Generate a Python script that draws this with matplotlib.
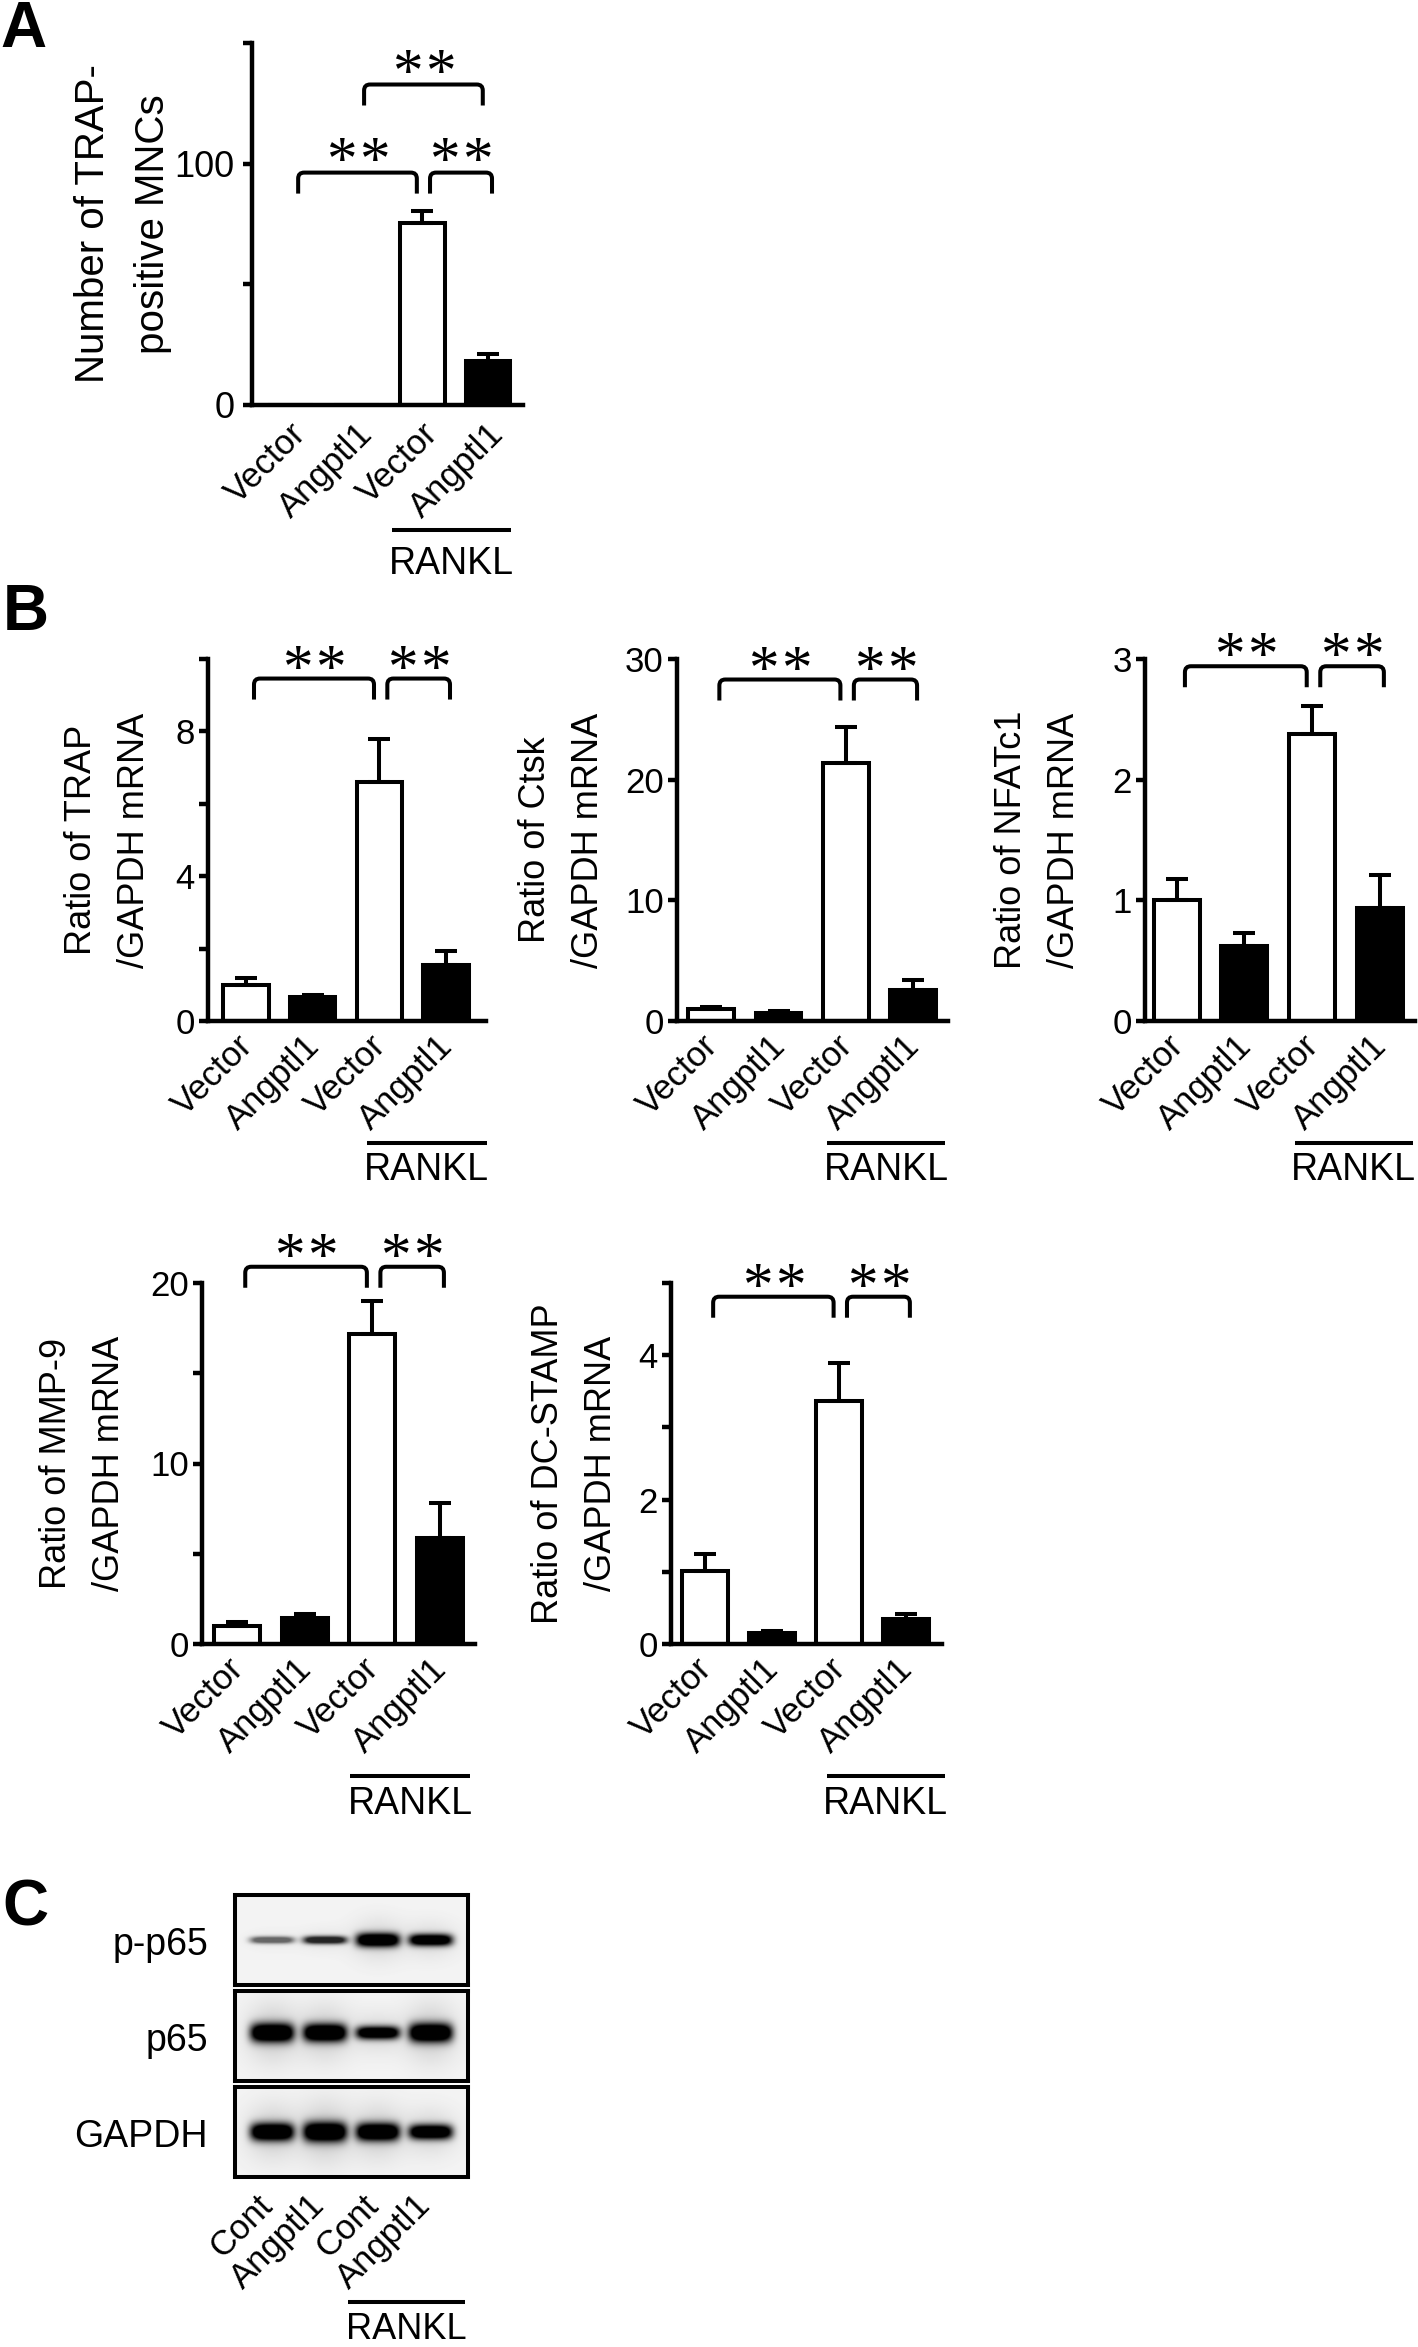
import numpy as np
import matplotlib
matplotlib.use("Agg")
import matplotlib.pyplot as plt
from matplotlib.path import Path
from matplotlib.patches import PathPatch
from matplotlib.transforms import blended_transform_factory, ScaledTranslation

# ==========================================
# DATA
# ==========================================
groups = ["Vector", "Angptl1", "Vector", "Angptl1"]
bar_colors = ["white", "black", "white", "black"]
treatment = "RANKL"

# A: number of TRAP-positive MNCs
mnc_mean = [0, 0, 75.5, 18.2]
mnc_sem = [0, 0, 5.0, 3.1]

# B: ratio of marker / GAPDH mRNA
trap_mean = [1.0, 0.67, 6.6, 1.56]
trap_sem = [0.18, 0.05, 1.2, 0.37]
ctsk_mean = [1.0, 0.7, 21.4, 2.6]
ctsk_sem = [0.2, 0.1, 3.0, 0.8]
nfatc1_mean = [1.0, 0.62, 2.38, 0.94]
nfatc1_sem = [0.18, 0.11, 0.23, 0.27]
mmp9_mean = [1.0, 1.45, 17.2, 5.9]
mmp9_sem = [0.2, 0.2, 1.8, 1.9]
dcstamp_mean = [1.01, 0.15, 3.36, 0.35]
dcstamp_sem = [0.23, 0.03, 0.53, 0.07]

# significance brackets: (group i, group j, bracket height)
sig_mnc = [(0, 2, 96.3), (2, 3, 96.3), (1, 3, 132.8)]
sig_trap = [(0, 2, 9.46), (2, 3, 9.46)]
sig_ctsk = [(0, 2, 28.3), (2, 3, 28.3)]
sig_nfatc1 = [(0, 2, 2.94), (2, 3, 2.94)]
sig_mmp9 = [(0, 2, 20.9), (2, 3, 20.9)]
sig_dcstamp = [(0, 2, 4.81), (2, 3, 4.81)]

# C: western blot, band darkness (0-1) and band thickness (px)
lanes = ["Cont", "Angptl1", "Cont", "Angptl1"]
blot_names = ["p-p65", "p65", "GAPDH"]
pp65_level = [0.55, 0.8, 1.0, 0.97]
p65_level = [1.0, 1.0, 0.95, 1.0]
gapdh_level = [1.0, 1.0, 1.0, 0.97]
pp65_thick = [7, 8, 14, 12]
p65_thick = [19, 18, 13, 19]
gapdh_thick = [18, 20, 18, 15]

# ==========================================
# FIGURE SETUP
# ==========================================
W, H, DPI = 1418, 2347, 100
plt.rcParams["font.family"] = ["Liberation Sans", "DejaVu Sans"]
fig = plt.figure(figsize=(W / DPI, H / DPI), dpi=DPI)
LW = 2.9


def px_axes(left, right, top, bottom):
    return fig.add_axes([left / W, 1 - bottom / H, (right - left) / W, (bottom - top) / H])


def shift(dx, dy):
    # offset in pixels, dy > 0 means down
    return ScaledTranslation(dx / DPI, -dy / DPI, fig.dpi_scale_trans)


def sig_bracket(ax, i, j, y, sx, sy, leg_px, star_dy):
    x0 = i + 0.12
    x1 = j - 0.08 if j - i > 1 else j + 0.06
    leg = leg_px * sy
    rx, ry = 6 * sx, 6 * sy
    verts = [(x0, y - leg), (x0, y - ry), (x0, y), (x0 + rx, y),
             (x1 - rx, y), (x1, y), (x1, y - ry), (x1, y - leg)]
    codes = [Path.MOVETO, Path.LINETO, Path.CURVE3, Path.CURVE3,
             Path.LINETO, Path.CURVE3, Path.CURVE3, Path.LINETO]
    ax.add_patch(PathPatch(Path(verts, codes), fill=False, lw=LW, ec="black",
                           clip_on=False, capstyle="butt"))
    xc = (x0 + x1) / 2
    for dx in (-16.5, 16.5):
        ax.text(xc, y, "*", transform=ax.transData + shift(dx, star_dy),
                ha="center", va="baseline", fontsize=44, family="Liberation Serif")


def rankl_mark(ax, x0, x1, dy, gap, fs=27):
    tr = blended_transform_factory(ax.transData, ax.transAxes)
    ax.plot([x0, x1], [0, 0], color="black", lw=LW, clip_on=False,
            solid_capstyle="butt", transform=tr + shift(0, dy))
    ax.text((x0 + x1) / 2, 0, treatment, transform=tr + shift(0, dy + gap),
            ha="center", va="top", fontsize=fs)


def bar_panel(box, xlim, means, sems, ymax, ystep, shown, ylabel, sigs, rankl_x,
              tick_fs=25, lab_fs=26, xl_fs=25, lab_gap=100, tick_pad=3,
              xl_off=(2, 20), rankl_dy=122, rankl_gap=9, leg_px=21, star_dy=7):
    left, right, top, bottom = box
    ax = px_axes(left, right, top, bottom)
    w_px, h_px = right - left, bottom - top
    x = np.arange(len(means))
    m = np.array(means, float)
    s = np.array(sems, float)

    ax.bar(x, m, width=0.68, color=bar_colors, edgecolor="black", linewidth=LW, zorder=2)
    keep = s > 0
    ax.errorbar(x[keep], m[keep], yerr=[np.zeros(keep.sum()), s[keep]], fmt="none",
                ecolor="black", elinewidth=LW, capsize=8, capthick=LW, zorder=3)

    ax.set_xlim(*xlim)
    ax.set_ylim(0, ymax)
    ticks = np.arange(0, ymax + ystep / 2, ystep)
    ax.set_yticks(ticks)
    ax.set_yticklabels([f"{t:g}" if t in shown else "" for t in ticks])
    ax.set_xticks([])
    ax.tick_params(axis="y", length=6.5, width=3.2, labelsize=tick_fs, pad=tick_pad)
    for side in ["top", "right"]:
        ax.spines[side].set_visible(False)
    for side in ["left", "bottom"]:
        ax.spines[side].set_linewidth(3.2)
        ax.spines[side].set_zorder(4)

    ax.text(0, 0.5, ylabel, transform=ax.transAxes + shift(-lab_gap, 0), rotation=90,
            ha="center", va="center", rotation_mode="anchor", fontsize=lab_fs,
            linespacing=1.7, multialignment="center")

    tr = blended_transform_factory(ax.transData, ax.transAxes)
    for i, g in enumerate(groups):
        ax.text(i, 0, g, transform=tr + shift(*xl_off), rotation=45, ha="right",
                va="center", rotation_mode="anchor", fontsize=xl_fs)

    sx = (xlim[1] - xlim[0]) / w_px
    sy = ymax / h_px
    for i, j, yb in sigs:
        sig_bracket(ax, i, j, yb, sx, sy, leg_px, star_dy)

    rankl_mark(ax, rankl_x[0], rankl_x[1], rankl_dy, rankl_gap)
    return ax


# ==========================================
# PANEL A
# ==========================================
bar_panel((252, 523, 43, 405), (-0.58, 3.53), mnc_mean, mnc_sem, 150, 50, [0, 100],
          "Number of TRAP-\npositive MNCs", sig_mnc, (1.55, 3.35),
          tick_fs=26, lab_fs=29, xl_fs=25, lab_gap=129, tick_pad=6,
          xl_off=(11, 24), rankl_dy=125, rankl_gap=16, leg_px=21, star_dy=5)

# ==========================================
# PANEL B
# ==========================================
bar_panel((208, 486, 659, 1021), (-0.57, 3.6), trap_mean, trap_sem, 10, 2, [0, 4, 8],
          "Ratio of TRAP\n/GAPDH mRNA", sig_trap, (1.81, 3.61), lab_gap=100)
bar_panel((677, 948, 659, 1021), (-0.51, 3.52), ctsk_mean, ctsk_sem, 30, 10, [0, 10, 20, 30],
          "Ratio of Ctsk\n/GAPDH mRNA", sig_ctsk, (1.72, 3.48), lab_gap=115)
bar_panel((1145, 1415, 659, 1021), (-0.47, 3.52), nfatc1_mean, nfatc1_sem, 3, 1, [0, 1, 2, 3],
          "Ratio of NFATc1\n/GAPDH mRNA", sig_nfatc1, (1.74, 3.49), lab_gap=107)
bar_panel((202, 475, 1283, 1644), (-0.52, 3.52), mmp9_mean, mmp9_sem, 20, 5, [0, 10, 20],
          "Ratio of MMP-9\n/GAPDH mRNA", sig_mmp9, (1.67, 3.45), lab_gap=119,
          rankl_dy=132, rankl_gap=10)
bar_panel((671, 942, 1283, 1644), (-0.51, 3.54), dcstamp_mean, dcstamp_sem, 5, 1, [0, 2, 4],
          "Ratio of DC-STAMP\n/GAPDH mRNA", sig_dcstamp, (1.82, 3.58), lab_gap=96,
          rankl_dy=132, rankl_gap=10)

# ==========================================
# PANEL C (western blot)
# ==========================================
LANE_PX = 53
BLOT_X = (-0.70, 3.70)


def band_image(levels, thick, ycen, box_h):
    nx, ny = 2 * 233, 2 * box_h
    X, Y = np.meshgrid(np.linspace(BLOT_X[0], BLOT_X[1], nx), np.linspace(0, 1, ny))
    dark = np.zeros_like(X)
    for i, (lv, t) in enumerate(zip(levels, thick)):
        dx = (X - i) * LANE_PX / 22.0
        dy = (Y - ycen) * box_h / (t / 2.0)
        core = np.exp(-np.abs(dx) ** 5) * np.exp(-np.abs(dy) ** 2.2)
        halo = 0.10 * np.exp(-(dx / 1.15) ** 2) * np.exp(-(dy / 3.0) ** 2)
        dark += lv * (np.minimum(1.0, 1.4 * core) + halo * t / 12)
    dark = np.clip(dark, 0, 1)
    return 0.955 * (1 - dark)


blot_rows = [(1895, 1985), (1991, 2081), (2087, 2177)]
blot_levels = [pp65_level, p65_level, gapdh_level]
blot_thick = [pp65_thick, p65_thick, gapdh_thick]
blot_ycen = [0.5, 0.47, 0.5]

for (top, bottom), lv, th, yc, name in zip(blot_rows, blot_levels, blot_thick, blot_ycen, blot_names):
    ax = px_axes(235, 468, top, bottom)
    ax.imshow(band_image(lv, th, yc, bottom - top), cmap="gray", vmin=0, vmax=1,
              extent=(BLOT_X[0], BLOT_X[1], 1, 0), aspect="auto", interpolation="bilinear")
    ax.set_xlim(*BLOT_X)
    ax.set_ylim(1, 0)
    ax.set_xticks([])
    ax.set_yticks([])
    for sp in ax.spines.values():
        sp.set_linewidth(LW)
    ax.text(0, 0.5, name, transform=ax.transAxes + shift(-27, 5), ha="right",
            va="center", fontsize=27)

tr = blended_transform_factory(ax.transData, ax.transAxes)
for i, lane in enumerate(lanes):
    ax.text(i, 0, lane, transform=tr + shift(-5, 23), rotation=45, ha="right",
            va="center", rotation_mode="anchor", fontsize=25)
rankl_mark(ax, 1.43, 3.64, 125, 10, fs=26)

# ==========================================
# PANEL LETTERS
# ==========================================
for letter, x_px, base_px in [("A", 0, 47), ("B", 3, 630), ("C", 2, 1926)]:
    fig.text(x_px / W, 1 - base_px / H, letter, fontsize=46, fontweight="bold",
             ha="left", va="baseline")

fig.savefig("out.png", dpi=DPI, facecolor="white")
